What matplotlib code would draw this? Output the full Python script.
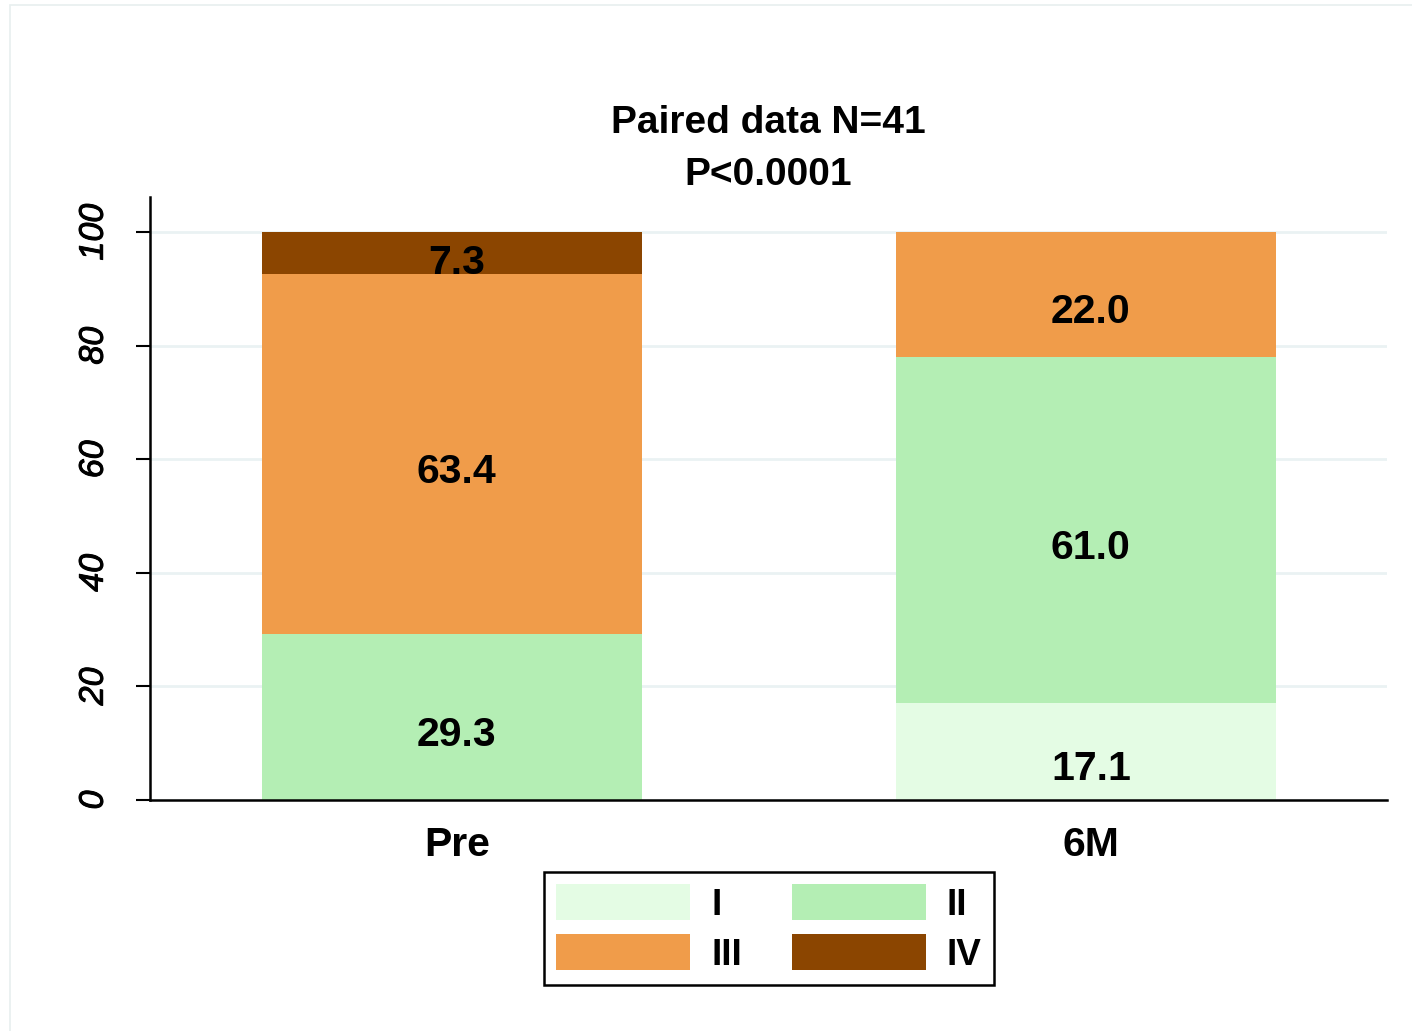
import numpy as np
import matplotlib
matplotlib.use("Agg")
import matplotlib.pyplot as plt
import matplotlib.transforms as mtransforms
import matplotlib.patheffects as pe
from matplotlib.patches import Rectangle, Patch

plt.rcParams['font.family'] = ['Liberation Sans', 'DejaVu Sans']

# data (percent of patients per class)
groups = ['Pre', '6M']
classes = ['I', 'II', 'III', 'IV']
pct_I = [0.0, 17.1]
pct_II = [29.3, 61.0]
pct_III = [63.4, 22.0]
pct_IV = [7.3, 0.0]
colors = ['#E4FCE4', '#B4EEB4', '#F09C4A', '#8B4500']

fig = plt.figure(figsize=(14.12, 10.31), dpi=100)

# faint outer frame like the graph region border
fig.patches.append(Rectangle((10/1412, -0.1), 1.2, 1.1 - 5/1031, transform=fig.transFigure,
                             fill=False, edgecolor='#E8EFEF', lw=1.2))

ax = fig.add_axes([150/1412, 1-800/1031, 1237/1412, 603/1031])

x = np.arange(len(groups))
series = [pct_I, pct_II, pct_III, pct_IV]
bottom = np.zeros(len(groups))
for vals, col in zip(series, colors):
    vals = np.array(vals)
    ax.bar(x, vals, width=0.6, bottom=bottom, color=col, linewidth=0, zorder=2)
    for xi, b, v in zip(x, bottom, vals):
        if v <= 0:
            continue
        off = -29 if v > 10 else -21
        ax.annotate(f"{v:.1f}", (xi, b + v/2), xytext=(5, off), textcoords='offset pixels',
                    ha='center', va='baseline', fontsize=29.5, fontweight='bold', zorder=3)
    bottom = bottom + vals

ax.set_xlim(-0.476, 1.475)
ax.set_ylim(0, 106.2)
ax.set_yticks([0, 20, 40, 60, 80, 100])
ax.set_xticks(x)
ax.set_xticklabels(groups, fontsize=29.5, fontweight='bold')
ax.tick_params(axis='x', length=0, pad=19)
ax.tick_params(axis='y', length=10, width=1.5, pad=19, labelsize=24.5, labelrotation=90)
shift = mtransforms.ScaledTranslation(5/100, 0, fig.dpi_scale_trans)
for lab in ax.get_xticklabels():
    lab.set_transform(lab.get_transform() + shift)
for lab in ax.get_yticklabels():
    lab.set_fontstyle('italic')
    lab.set_va('center')
    lab.set_path_effects([pe.withStroke(linewidth=0.7, foreground='black')])

ax.grid(axis='y', color='#EAF2F3', lw=2, zorder=0)
ax.set_axisbelow(True)
for s in ['top', 'right']:
    ax.spines[s].set_visible(False)
for s in ['left', 'bottom']:
    ax.spines[s].set_linewidth(1.8)
    ax.spines[s].set_color('black')

fig.text(768/1412, 1-133/1031, 'Paired data N=41', ha='center', va='baseline',
         fontsize=28, fontweight='bold')
fig.text(768/1412, 1-185/1031, 'P<0.0001', ha='center', va='baseline',
         fontsize=28, fontweight='bold')

# legend filled row by row: I II / III IV
handles = [Patch(facecolor=c, edgecolor='none') for c in colors]
order = [0, 2, 1, 3]
leg = fig.legend([handles[i] for i in order], [classes[i] for i in order], loc='center',
                 bbox_to_anchor=(769/1412, 1-928.5/1031),
                 ncol=2, prop={'weight': 'bold', 'size': 26.6},
                 handlelength=3.62, handleheight=1.12, handletextpad=0.57,
                 columnspacing=1.35, labelspacing=0.3, borderpad=0.33,
                 fancybox=False, framealpha=1, edgecolor='black')
leg.get_frame().set_linewidth(1.8)

fig.savefig('out.png', dpi=100, facecolor='white')
